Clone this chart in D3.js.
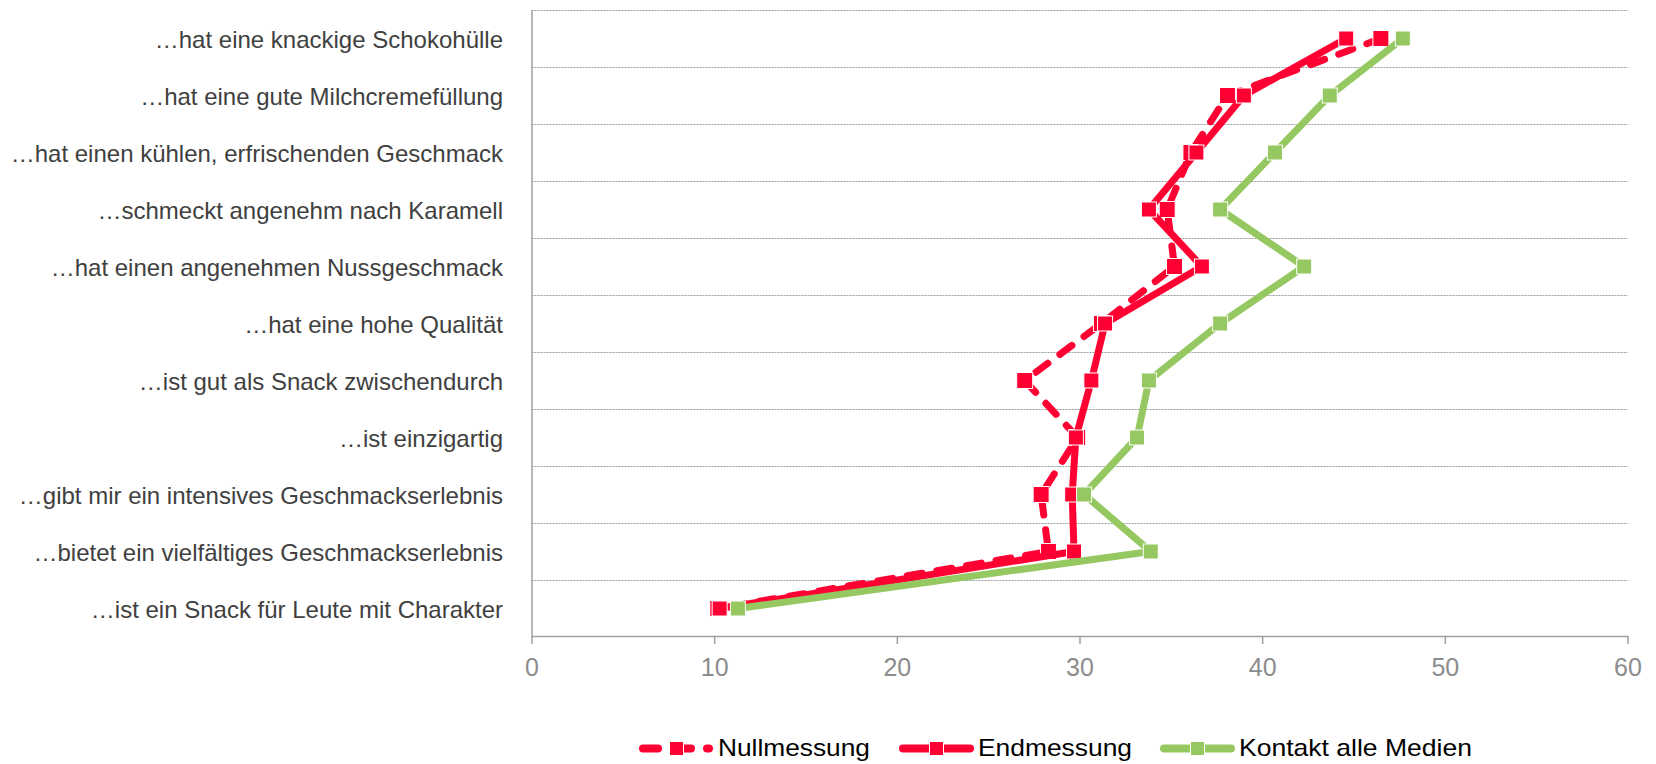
<!DOCTYPE html>
<html>
<head>
<meta charset="utf-8">
<script src="https://cdn.jsdelivr.net/npm/d3@7"></script>
<style>
  html, body { margin: 0; padding: 0; background: #fff; }
  svg { display: block; font-family: "Liberation Sans", Arial, sans-serif; }
</style>
</head>
<body>
<svg id="chart" width="1656" height="764"></svg>
<script>
const categories = [
  "…hat eine knackige Schokohülle",
  "…hat eine gute Milchcremefüllung",
  "…hat einen kühlen, erfrischenden Geschmack",
  "…schmeckt angenehm nach Karamell",
  "…hat einen angenehmen Nussgeschmack",
  "…hat eine hohe Qualität",
  "…ist gut als Snack zwischendurch",
  "…ist einzigartig",
  "…gibt mir ein intensives Geschmackserlebnis",
  "…bietet ein vielfältiges Geschmackserlebnis",
  "…ist ein Snack für Leute mit Charakter"
];
const nullmessung = [46.5, 38.1, 36.1, 34.8, 35.2, 31.2, 27.0, 29.9, 27.9, 28.3, 10.2];
const endmessung  = [44.6, 39.0, 36.4, 33.8, 36.7, 31.4, 30.65, 29.8, 29.6, 29.7, 10.3];
const kontakt     = [47.7, 43.7, 40.7, 37.7, 42.3, 37.7, 33.8, 33.15, 30.25, 33.9, 11.3];
const seriesNames = ["Nullmessung", "Endmessung", "Kontakt alle Medien"];
const xTicks = [0, 10, 20, 30, 40, 50, 60];

const RED = "#FF0033", GREEN = "#95C860";
const series = [
  { name: seriesNames[0], values: nullmessung, color: RED, dash: "15,15", ms: 16, legendW: 152 },
  { name: seriesNames[1], values: endmessung, color: RED, dash: null, ms: 15, legendW: 154 },
  { name: seriesNames[2], values: kontakt, color: GREEN, dash: null, ms: 15, legendW: 233 }
];

const svg = d3.select("#chart");
const x = d3.scaleLinear().domain([0, 60]).range([531.5, 1627.5]);
const y = d3.scaleBand().domain(categories).range([10, 637]).padding(0);
const bw = y.bandwidth();
const cy = c => y(c) + bw / 2;

// gridlines
svg.append("g").selectAll("line").data(categories).join("line")
  .attr("x1", x(0)).attr("x2", x(60))
  .attr("y1", d => Math.round(y(d)) + 0.5).attr("y2", d => Math.round(y(d)) + 0.5)
  .attr("stroke", "#9a9a9a").attr("stroke-width", 1).attr("stroke-dasharray", "2,1");

// x axis
const xAxis = svg.append("g").attr("transform", `translate(0,${636})`)
  .call(d3.axisBottom(x).tickValues(xTicks).tickSize(8).tickSizeOuter(0).tickPadding(14).tickFormat(d3.format("d")));
xAxis.select(".domain").attr("stroke", "#a0a0a0").attr("stroke-width", 1.5);
xAxis.selectAll(".tick line").attr("stroke", "#a0a0a0").attr("stroke-width", 1.5);
xAxis.selectAll(".tick text").attr("fill", "#8c8c8c").attr("font-size", 25)
  .attr("font-family", "Liberation Sans, Arial, sans-serif");

// y axis
const yAxis = svg.append("g").attr("transform", `translate(${x(0)},0)`)
  .call(d3.axisLeft(y).tickSize(0).tickSizeOuter(0).tickPadding(28.5));
yAxis.select(".domain").attr("stroke", "#a0a0a0").attr("stroke-width", 1.5);
yAxis.selectAll(".tick text").attr("fill", "#404040").attr("font-size", 24)
  .attr("font-family", "Liberation Sans, Arial, sans-serif").attr("dy", "0.38em");

// series
const line = d3.line().x(d => x(d.v)).y(d => cy(d.c));
series.forEach(s => {
  const pts = s.values.map((v, i) => ({ v, c: categories[i] }));
  const g = svg.append("g");
  g.append("path").datum(pts).attr("d", line)
    .attr("fill", "none").attr("stroke", s.color).attr("stroke-width", 7)
    .attr("stroke-linejoin", "round")
    .attr("stroke-linecap", s.dash ? "round" : "butt")
    .attr("stroke-dasharray", s.dash);
  g.selectAll("rect").data(pts).join("rect")
    .attr("x", d => x(d.v) - s.ms / 2).attr("y", d => cy(d.c) - s.ms / 2)
    .attr("width", s.ms).attr("height", s.ms)
    .attr("fill", s.color).attr("stroke", "#fff").attr("stroke-width", 1);
});

// legend
const legendX = [639, 899, 1160];
const ly = 748.5;
const MS = 14;
series.forEach((s, i) => {
  const g = svg.append("g").attr("transform", `translate(${legendX[i]},${ly})`);
  if (s.dash) {
    g.append("line").attr("x1", 4).attr("x2", 19).attr("y1", 0).attr("y2", 0)
      .attr("stroke", s.color).attr("stroke-width", 8).attr("stroke-linecap", "round");
    g.append("line").attr("x1", 45).attr("x2", 52).attr("y1", 0).attr("y2", 0)
      .attr("stroke", s.color).attr("stroke-width", 8).attr("stroke-linecap", "round");
    g.append("line").attr("x1", 68).attr("x2", 70).attr("y1", 0).attr("y2", 0)
      .attr("stroke", s.color).attr("stroke-width", 8).attr("stroke-linecap", "round");
  } else {
    g.append("line").attr("x1", 4).attr("x2", 71).attr("y1", 0).attr("y2", 0)
      .attr("stroke", s.color).attr("stroke-width", 8).attr("stroke-linecap", "round");
  }
  g.append("rect").attr("x", 37.5 - MS / 2).attr("y", -MS / 2).attr("width", MS).attr("height", MS)
    .attr("fill", s.color).attr("stroke", "#fff").attr("stroke-width", 1);
  g.append("text").attr("x", 79).attr("y", 7.5)
    .attr("font-size", 24).attr("fill", "#000")
    .attr("textLength", s.legendW).attr("lengthAdjust", "spacingAndGlyphs")
    .text(s.name);
});
</script>
</body>
</html>
